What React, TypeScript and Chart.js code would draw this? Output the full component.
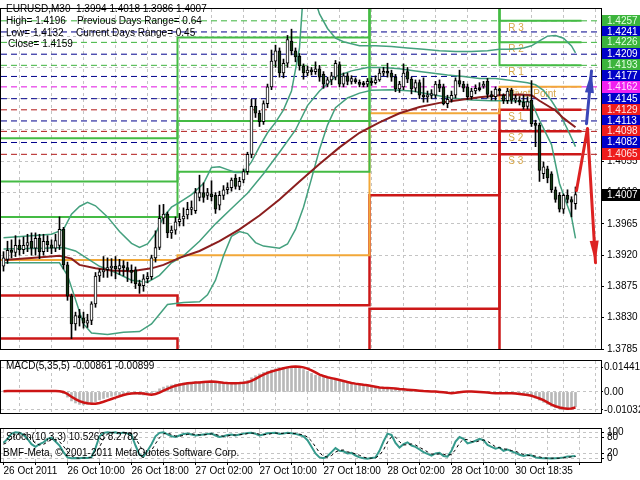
import React, { useEffect, useRef } from "react";
import { Chart, registerables } from "chart.js";
Chart.register(...registerables);

const FONT = "'Liberation Sans', Arial, sans-serif";
const GRID = "#c4c4c4";

// ---------- candles (EURUSD M30) ----------
const opens = [
  1.3904,1.3914,1.3927,1.3924,1.3934,1.3928,1.3934,1.3940,1.3930,1.3944,
  1.3925,1.3940,1.3935,1.3930,1.3934,1.3957,1.3906,1.3861,1.3821,1.3833,
  1.3830,1.3822,1.3826,1.3850,1.3890,1.3896,1.3899,1.3902,1.3904,1.3900,
  1.3905,1.3902,1.3898,1.3899,1.3879,1.3876,1.3886,1.3889,1.3916,1.3931,
  1.3973,1.3979,1.3952,1.3956,1.3968,1.3972,1.3978,1.3986,1.3984,1.4003,
  1.4010,1.4006,1.4008,1.4006,1.3992,1.4006,1.4014,1.4017,1.4031,1.4019,
  1.4028,1.4040,1.4065,1.4134,1.4124,1.4112,1.4138,1.4162,1.4199,1.4214,
  1.4182,1.4196,1.4228,1.4214,1.4206,1.4192,1.4182,1.4186,1.4184,1.4188,
  1.4180,1.4166,1.4172,1.4176,1.4194,1.4166,1.4178,1.4170,1.4172,1.4168,
  1.4166,1.4166,1.4170,1.4168,1.4172,1.4182,1.4184,1.4182,1.4176,1.4159,
  1.4162,1.4184,1.4173,1.4160,1.4168,1.4150,1.4148,1.4150,1.4150,1.4166,
  1.4162,1.4138,1.4144,1.4150,1.4171,1.4166,1.4162,1.4148,1.4156,1.4160,
  1.4163,1.4170,1.4151,1.4148,1.4159,1.4150,1.4142,1.4157,1.4143,1.4143,
  1.4140,1.4134,1.4143,1.4109,1.4107,1.4037,1.4044,1.4037,1.4014,1.4006,
  1.3986,1.4006,1.4000,1.3994,
];
const highs = [
  1.3925,1.3940,1.3942,1.3948,1.3942,1.3946,1.3950,1.3952,1.3952,1.3950,
  1.3950,1.3948,1.3942,1.3950,1.3975,1.3960,1.3910,1.3864,1.3838,1.3842,
  1.3838,1.3835,1.3853,1.3895,1.3900,1.3918,1.3916,1.3915,1.3918,1.3914,
  1.3912,1.3910,1.3906,1.3903,1.3884,1.3892,1.3895,1.3920,1.3955,1.3992,
  1.3993,1.3982,1.3962,1.3975,1.3980,1.3988,1.3996,1.3998,1.4016,1.4035,
  1.4024,1.4016,1.4027,1.4010,1.4012,1.4020,1.4024,1.4031,1.4036,1.4032,
  1.4044,1.4068,1.4144,1.4144,1.4128,1.4142,1.4166,1.4215,1.4222,1.4218,
  1.4202,1.4236,1.4245,1.4218,1.4210,1.4195,1.4192,1.4190,1.4198,1.4193,
  1.4184,1.4176,1.4183,1.4200,1.4198,1.4182,1.4182,1.4178,1.4175,1.4172,
  1.4170,1.4174,1.4175,1.4178,1.4188,1.4190,1.4196,1.4186,1.4180,1.4170,
  1.4195,1.4190,1.4176,1.4172,1.4172,1.4175,1.4156,1.4158,1.4170,1.4172,
  1.4166,1.4150,1.4156,1.4175,1.4186,1.4170,1.4166,1.4160,1.4165,1.4168,
  1.4170,1.4174,1.4156,1.4162,1.4160,1.4152,1.4160,1.4160,1.4150,1.4148,
  1.4150,1.4148,1.4171,1.4114,1.4110,1.4054,1.4048,1.4040,1.4018,1.4010,
  1.4008,1.4014,1.4004,1.4018,
];
const lows = [
  1.3897,1.3908,1.3916,1.3918,1.3920,1.3922,1.3925,1.3920,1.3920,1.3915,
  1.3920,1.3925,1.3922,1.3925,1.3928,1.3900,1.3855,1.3800,1.3812,1.3818,
  1.3815,1.3816,1.3820,1.3845,1.3882,1.3888,1.3888,1.3890,1.3886,1.3892,
  1.3890,1.3882,1.3880,1.3872,1.3865,1.3868,1.3880,1.3885,1.3910,1.3928,
  1.3965,1.3945,1.3944,1.3950,1.3962,1.3962,1.3972,1.3978,1.3980,1.3998,
  1.3996,1.4000,1.3998,1.3980,1.3985,1.4000,1.4008,1.4012,1.4015,1.4014,
  1.4024,1.4036,1.4060,1.4118,1.4105,1.4108,1.4132,1.4158,1.4190,1.4176,
  1.4175,1.4190,1.4208,1.4198,1.4186,1.4173,1.4178,1.4179,1.4180,1.4170,
  1.4160,1.4162,1.4165,1.4172,1.4162,1.4162,1.4165,1.4166,1.4167,1.4162,
  1.4162,1.4162,1.4164,1.4166,1.4170,1.4178,1.4176,1.4170,1.4155,1.4154,
  1.4158,1.4168,1.4152,1.4155,1.4145,1.4140,1.4140,1.4145,1.4146,1.4155,
  1.4136,1.4132,1.4140,1.4146,1.4162,1.4155,1.4144,1.4144,1.4152,1.4156,
  1.4160,1.4146,1.4143,1.4143,1.4150,1.4138,1.4138,1.4138,1.4139,1.4136,
  1.4130,1.4130,1.4105,1.4076,1.4026,1.4030,1.4024,1.4010,1.3996,1.3982,
  1.3980,1.3995,1.3975,1.3986,
];
const closes = [
  1.3916,1.3927,1.3924,1.3934,1.3928,1.3934,1.3938,1.3930,1.3944,1.3925,
  1.3940,1.3935,1.3930,1.3941,1.3957,1.3906,1.3861,1.3821,1.3833,1.3830,
  1.3822,1.3826,1.3850,1.3890,1.3896,1.3899,1.3902,1.3904,1.3900,1.3905,
  1.3902,1.3898,1.3895,1.3879,1.3876,1.3886,1.3889,1.3916,1.3931,1.3973,
  1.3979,1.3952,1.3956,1.3968,1.3972,1.3976,1.3986,1.3988,1.4010,1.4010,
  1.4003,1.4010,1.4004,1.3986,1.4006,1.4014,1.4017,1.4028,1.4019,1.4026,
  1.4040,1.4065,1.4134,1.4124,1.4112,1.4138,1.4162,1.4199,1.4214,1.4182,
  1.4196,1.4230,1.4214,1.4205,1.4192,1.4182,1.4186,1.4184,1.4188,1.4176,
  1.4166,1.4172,1.4178,1.4196,1.4166,1.4178,1.4170,1.4174,1.4170,1.4166,
  1.4167,1.4170,1.4168,1.4172,1.4182,1.4184,1.4182,1.4176,1.4159,1.4166,
  1.4182,1.4173,1.4159,1.4168,1.4150,1.4148,1.4150,1.4152,1.4166,1.4160,
  1.4138,1.4144,1.4150,1.4171,1.4166,1.4160,1.4148,1.4156,1.4160,1.4159,
  1.4166,1.4151,1.4148,1.4159,1.4156,1.4142,1.4156,1.4143,1.4146,1.4140,
  1.4133,1.4141,1.4109,1.4107,1.4042,1.4047,1.4031,1.4014,1.4000,1.3986,
  1.4006,1.4000,1.3996,1.4007,
];

// ---------- time axis ----------
const gridBars = [0, 8, 16, 24, 32, 40, 48, 56, 64, 72, 80, 88, 96, 104, 112, 120, 128, 136, 144];
const timeTickBars = [0, 16, 32, 48, 64, 80, 96, 112, 128];
const timeTickLabels = [
  "26 Oct 2011", "26 Oct 10:00", "26 Oct 18:00", "27 Oct 02:00", "27 Oct 10:00",
  "27 Oct 18:00", "28 Oct 02:00", "28 Oct 10:00", "30 Oct 18:35",
];
const priceTicks = [1.3785, 1.3830, 1.3875, 1.3920, 1.3965, 1.4010, 1.4055, 1.4100, 1.4145, 1.4190, 1.4235];

// ---------- indicators on price: [bar, price] ----------
const bbUpper = [
  [0,1.3945],[7,1.3948],[12,1.3950],[15,1.3957],[17,1.3979],[19,1.3990],[21,1.3996],[23,1.3991],
  [26,1.3975],[29,1.3954],[32,1.3937],[34,1.3931],[36,1.3936],[38,1.3951],[40,1.3975],[42,1.3989],
  [44,1.3996],[47,1.4007],[50,1.4023],[52,1.4046],[54,1.4047],[56,1.4043],[58,1.4039],[60,1.4039],
  [62,1.4054],[64,1.4076],[66,1.4096],[68,1.4111],[70,1.4129],[72,1.4156],[74,1.4218],[75,1.4302],
  [77,1.4302],[79,1.4267],[81,1.4246],[83,1.4232],[85,1.4227],[89,1.4221],[93,1.4221],[97,1.4220],
  [101,1.4218],[105,1.4216],[109,1.4214],[113,1.4213],[117,1.4213],[121,1.4214],[124,1.4216],
  [127,1.4216],[130,1.4218],[132,1.4221],[134,1.4228],[136,1.4235],[138,1.4236],[140,1.4232],
  [142,1.4221],[143,1.4211],
];
const bbMiddle = [
  [0,1.3929],[10,1.3930],[15,1.3931],[18,1.3926],[21,1.3915],[24,1.3904],[28,1.3895],[32,1.3884],
  [36,1.3881],[39,1.3891],[42,1.3909],[45,1.3919],[49,1.3940],[53,1.3965],[57,1.3987],[61,1.4009],
  [65,1.4037],[69,1.4068],[73,1.4100],[76,1.4135],[79,1.4156],[83,1.4177],[87,1.4185],[91,1.4190],
  [95,1.4190],[99,1.4188],[103,1.4185],[107,1.4182],[111,1.4179],[115,1.4177],[119,1.4174],
  [123,1.4174],[127,1.4171],[131,1.4168],[133,1.4165],[135,1.4157],[137,1.4142],[139,1.4124],
  [141,1.4101],[143,1.4076],
];
const bbLower = [
  [0,1.3909],[10,1.3909],[14,1.3909],[16,1.3891],[18,1.3856],[20,1.3821],[22,1.3808],[26,1.3806],
  [30,1.3809],[34,1.3810],[37,1.3821],[39,1.3835],[41,1.3849],[45,1.3852],[49,1.3853],[51,1.3863],
  [53,1.3884],[55,1.3919],[57,1.3947],[59,1.3954],[61,1.3951],[63,1.3938],[65,1.3933],[69,1.3930],
  [71,1.3936],[73,1.3957],[75,1.3989],[77,1.4030],[79,1.4072],[81,1.4107],[83,1.4132],[86,1.4146],
  [89,1.4153],[92,1.4157],[97,1.4158],[102,1.4156],[107,1.4151],[112,1.4146],[117,1.4143],
  [122,1.4142],[127,1.4142],[132,1.4140],[134,1.4114],[137,1.4079],[139,1.4023],[142,1.3975],
  [143,1.3944],
];
const slowMA = [
  [0,1.3913],[7,1.3916],[14,1.3919],[17,1.3915],[19,1.3906],[23,1.3901],[27,1.3898],[32,1.3897],
  [37,1.3901],[40,1.3906],[44,1.3916],[49,1.3926],[54,1.3940],[59,1.3957],[64,1.3977],[69,1.4000],
  [74,1.4026],[79,1.4051],[84,1.4075],[89,1.4096],[94,1.4111],[99,1.4124],[104,1.4133],[109,1.4139],
  [114,1.4143],[119,1.4147],[124,1.4150],[129,1.4151],[132,1.4150],[134,1.4142],[138,1.4128],
  [140,1.4117],[143,1.4104],
];

// ---------- daily pivots (per day) ----------
const pivotDayStarts = [-0.625, 43.5, 91.5, 124];
const pivotR3 = [1.4088, 1.4233, 1.4523, 1.4257];
const pivotR2 = [1.4026, 1.4113, 1.4405, 1.4226];
const pivotR1 = [1.3975, 1.4040, 1.4287, 1.4193];
const pivotPP = [1.3913, 1.3920, 1.4124, 1.4162];
const pivotS1 = [1.3862, 1.3848, 1.4006, 1.4129];
const pivotS2 = [1.3800, 1.3727, 1.3843, 1.4098];
const pivotS3 = [1.3749, 1.3656, 1.3725, 1.4065];
const pivotEndBar = 144.5;

// ---------- horizontal levels (full width) ----------
const levelPrices = [1.4257, 1.4241, 1.4226, 1.4209, 1.4193, 1.4177, 1.4162, 1.4145, 1.4129, 1.4113, 1.4098, 1.4082, 1.4065];
const levelKinds = ["R", "M", "R", "M", "R", "M", "P", "M", "S", "M", "S", "M", "S"];
const pivotLabelTexts = ["R 3", "R 2", "R 1", "Pivot Point", "S 1", "S 2", "S 3"];
const pivotLabelPrices = [1.4257, 1.4226, 1.4193, 1.4162, 1.4129, 1.4098, 1.4065];
const lastPrice = 1.4007;

// ---------- forecast arrows: [bar, price] ----------
const arrowUpPath = [[145.75, 1.4109], [147.0, 1.4185]];
const arrowDownPath = [[143.25, 1.4013], [146.0, 1.4102], [148.0, 1.3909]];

// ---------- MACD(5,35,5) ----------
const macdMain = [
  0.0005,0.0006,0.0006,0.0006,0.0007,0.0006,0.0006,0.0007,0.0006,0.0005,
  0.0005,0.0005,0.0005,0.0006,0.0008,-0.0010,-0.0030,-0.0052,-0.0064,-0.0072,
  -0.0075,-0.0072,-0.0066,-0.0056,-0.0046,-0.0038,-0.0031,-0.0025,-0.0020,-0.0016,
  -0.0013,-0.0011,-0.0010,-0.0012,-0.0016,-0.0018,-0.0015,-0.0008,0.0004,0.0018,
  0.0028,0.0035,0.0040,0.0045,0.0049,0.0052,0.0054,0.0056,0.0058,0.0060,
  0.0061,0.0061,0.0058,0.0053,0.0050,0.0049,0.0049,0.0050,0.0052,0.0054,
  0.0058,0.0066,0.0082,0.0094,0.0104,0.0113,0.0120,0.0127,0.0133,0.0138,
  0.0141,0.0144,0.01441,0.0143,0.0138,0.0130,0.0119,0.0107,0.0097,0.0090,
  0.0084,0.0080,0.0076,0.0072,0.0066,0.0060,0.0054,0.0050,0.0046,0.0043,
  0.0039,0.0035,0.0031,0.0027,0.0024,0.0023,0.0023,0.0021,0.0018,0.0016,
  0.0014,0.0012,0.0010,0.0008,0.0006,0.0004,0.0003,0.0002,0.0001,-0.0002,
  -0.0005,-0.0007,-0.0006,-0.0002,0.0001,0.0003,0.0002,0.0001,0.0000,-0.0002,
  -0.0004,-0.0006,-0.0007,-0.0007,-0.0006,-0.0007,-0.0007,-0.0008,-0.0011,-0.0014,
  -0.0017,-0.0020,-0.0026,-0.0036,-0.0048,-0.0060,-0.0072,-0.0083,-0.0092,-0.0098,
  -0.0102,-0.01032,-0.0100,-0.00861,
];
const macdSignal = [
  0.0004,0.0005,0.0005,0.0006,0.0006,0.0006,0.0006,0.0006,0.0006,0.0006,
  0.0005,0.0005,0.0005,0.0005,0.0004,0.0000,-0.0012,-0.0028,-0.0042,-0.0053,
  -0.0061,-0.0066,-0.0069,-0.0068,-0.0064,-0.0057,-0.0049,-0.0041,-0.0033,-0.0025,
  -0.0018,-0.0012,-0.0009,-0.0007,-0.0007,-0.0009,-0.0013,-0.0016,-0.0012,-0.0004,
  0.0007,0.0018,0.0028,0.0036,0.0042,0.0046,0.0050,0.0052,0.0054,0.0055,
  0.0057,0.0059,0.0060,0.0059,0.0056,0.0053,0.0051,0.0050,0.0050,0.0051,
  0.0053,0.0056,0.0064,0.0076,0.0089,0.0100,0.0110,0.0118,0.0125,0.0131,
  0.0137,0.0142,0.0146,0.0147,0.0146,0.0142,0.0135,0.0125,0.0113,0.0100,
  0.0092,0.0085,0.0080,0.0075,0.0069,0.0063,0.0057,0.0052,0.0048,0.0045,
  0.0041,0.0038,0.0034,0.0030,0.0026,0.0024,0.0023,0.0022,0.0020,0.0017,
  0.0015,0.0013,0.0011,0.0009,0.0007,0.0005,0.0004,0.0003,0.0002,0.0000,
  -0.0002,-0.0005,-0.0007,-0.0005,-0.0002,0.0001,0.0002,0.0002,0.0001,0.0000,
  -0.0002,-0.0004,-0.0006,-0.0007,-0.0007,-0.0007,-0.0007,-0.0007,-0.0009,-0.0012,
  -0.0015,-0.0018,-0.0022,-0.0030,-0.0038,-0.0047,-0.0060,-0.0073,-0.0083,-0.0090,
  -0.0095,-0.0097,-0.0096,-0.00899,
];
const macdTicks = [-0.01032, 0, 0.01441];

// ---------- Stochastic(10,3,3) ----------
const stochMain = [
  60,75,95,100,98,90,75,55,45,55,
  62,75,80,65,50,25,5,2,3,2,
  4,3,6,40,85,98,100,98,100,96,
  99,95,90,50,15,8,30,55,85,98,
  100,92,85,82,88,94,95,92,88,90,
  92,94,95,88,82,85,90,92,88,92,
  95,97,98,94,88,92,96,97,98,94,
  95,98,96,94,90,85,70,45,20,5,
  2,10,25,40,30,28,20,22,12,5,
  2,0,3,5,30,65,95,90,60,42,
  55,62,50,45,35,25,18,12,20,22,
  10,8,30,65,82,75,58,62,68,75,
  70,52,45,38,42,30,35,28,22,15,
  10,14,12,5,3,2,2,1,2,3,
  5,8,9,10.5263,
];
const stochSignal = [
  55,62,77,90,98,96,88,73,58,52,
  54,64,72,73,65,47,27,11,3,2,
  3,3,4,16,44,74,94,99,99,98,
  98,97,95,78,52,24,18,31,57,79,
  94,97,92,86,85,88,92,94,92,90,
  90,92,94,92,88,85,86,89,90,91,
  92,95,97,96,93,91,92,95,97,96,
  96,96,96,96,93,90,82,67,45,23,
  9,6,12,25,32,33,26,23,18,13,
  6,2,2,3,13,33,63,83,82,64,
  52,53,56,52,43,35,26,18,17,18,
  17,13,16,34,59,74,72,65,63,68,
  71,66,56,45,42,37,36,31,28,22,
  16,13,12,10,7,3,2,2,2,2,
  3,5,7,8.2782,
];
const stochTicks = [0, 20, 80, 100];

// ---------- helpers ----------
const X_MIN = -0.625;
const X_MAX = 149.375;
const pts = (arr: number[][]) => arr.map((p) => ({ x: p[0], y: p[1] }));

function xScale(withLabels: boolean): any {
  return {
    type: "linear",
    min: X_MIN,
    max: X_MAX,
    offset: false,
    afterBuildTicks: (s: any) => {
      s.ticks = gridBars.map((v) => ({ value: v }));
    },
    afterFit: (s: any) => {
      s.height = withLabels ? 18 : 0;
    },
    grid: {
      color: GRID,
      lineWidth: 1,
      drawTicks: withLabels,
      tickLength: 3,
      tickColor: "#000",
      tickBorderDash: [],
    },
    border: { display: false, dash: [3, 3] },
    ticks: withLabels
      ? {
          display: true,
          autoSkip: false,
          maxRotation: 0,
          minRotation: 0,
          align: "start",
          padding: 0,
          color: "#000",
          font: { family: FONT, size: 10 },
          callback: (v: any) => {
            const k = timeTickBars.indexOf(Number(v));
            return k >= 0 ? timeTickLabels[k] : "";
          },
        }
      : { display: false },
  };
}

function yScale(min: number, max: number, ticks: number[], fmt: (v: number) => string, pad = 3, tl = 3): any {
  return {
    type: "linear",
    position: "right",
    min,
    max,
    afterFit: (s: any) => {
      s.width = 39;
    },
    afterBuildTicks: (s: any) => {
      s.ticks = ticks.map((v) => ({ value: v }));
    },
    grid: { color: GRID, lineWidth: 1, drawTicks: true, tickLength: tl, tickColor: "#000", tickBorderDash: [] },
    border: { display: false, dash: [3, 3] },
    ticks: {
      autoSkip: false,
      color: "#000",
      padding: pad,
      font: { family: FONT, size: 10 },
      callback: (v: any) => fmt(Number(v)),
    },
  };
}

const framePlugin = {
  id: "frame",
  afterDraw(chart: any) {
    const { ctx, chartArea: a } = chart;
    ctx.save();
    ctx.strokeStyle = "#000";
    ctx.lineWidth = 1;
    ctx.strokeRect(a.left - 0.5, a.top - 0.5, a.right - a.left + 1, a.bottom - a.top + 1);
    ctx.restore();
  },
};

function drawArrow(ctx: any, p: number[][], color: string, width: number) {
  ctx.strokeStyle = color;
  ctx.fillStyle = color;
  ctx.lineWidth = width;
  ctx.lineJoin = "round";
  ctx.lineCap = "round";
  ctx.beginPath();
  p.forEach((q, i) => (i ? ctx.lineTo(q[0], q[1]) : ctx.moveTo(q[0], q[1])));
  ctx.stroke();
  const [x1, y1] = p[p.length - 2];
  const [x2, y2] = p[p.length - 1];
  const ang = Math.atan2(y2 - y1, x2 - x1);
  const L = 22;
  const W = 4.5;
  const bx = x2 - L * Math.cos(ang);
  const by = y2 - L * Math.sin(ang);
  ctx.beginPath();
  ctx.moveTo(x2, y2);
  ctx.lineTo(bx + W * Math.sin(ang), by - W * Math.cos(ang));
  ctx.lineTo(bx - W * Math.sin(ang), by + W * Math.cos(ang));
  ctx.closePath();
  ctx.fill();
}

const levelLineColor: any = { R: "#3cb43c", M: "#00008c", P: "#e010e0", S: "#b01818" };
const levelBoxColor: any = { R: "#3cb43c", M: "#0000c8", P: "#f020f0", S: "#ee1c1c" };
const levelTextColor: any = { R: "#e0ffe0", M: "#ffffff", P: "#ffe0ff", S: "#ffe6e6" };

const mainOverlay = {
  id: "mainOverlay",
  beforeDatasetsDraw(chart: any) {
    const { ctx, scales } = chart;
    ctx.save();
    ctx.font = `10px ${FONT}`;
    ctx.fillStyle = "#d6a64a";
    ctx.textBaseline = "top";
    const lx = scales.x.getPixelForValue(126.2);
    pivotLabelTexts.forEach((t, i) => {
      ctx.fillText(t, lx, scales.y.getPixelForValue(pivotLabelPrices[i]) + 2);
    });
    ctx.restore();
  },
  afterDatasetsDraw(chart: any) {
    const { ctx, scales } = chart;
    const toPx = (p: number[][]) => p.map((q) => [scales.x.getPixelForValue(q[0]), scales.y.getPixelForValue(q[1])]);
    ctx.save();
    drawArrow(ctx, toPx(arrowDownPath), "#dd2222", 3);
    drawArrow(ctx, toPx(arrowUpPath), "#3a46b8", 3);
    ctx.restore();
  },
  afterDraw(chart: any) {
    const { ctx, scales, chartArea: a } = chart;
    ctx.save();
    ctx.font = `10px ${FONT}`;
    ctx.textBaseline = "middle";
    const boxL = a.right + 1;
    levelPrices.forEach((p, i) => {
      const k = levelKinds[i];
      const y = Math.round(scales.y.getPixelForValue(p));
      ctx.fillStyle = levelBoxColor[k];
      ctx.fillRect(boxL, y - 6, 640 - boxL, 12);
      ctx.fillStyle = levelTextColor[k];
      ctx.fillText(p.toFixed(4), boxL + 5, y + 0.5);
    });
    const yl = Math.round(scales.y.getPixelForValue(lastPrice));
    ctx.fillStyle = "#000";
    ctx.fillRect(boxL, yl - 6, 640 - boxL, 12);
    ctx.fillStyle = "#fff";
    ctx.fillText(lastPrice.toFixed(4), boxL + 5, yl + 0.5);
    ctx.fillStyle = "#000";
    ctx.fillText("EURUSD,M30  1.3994 1.4018 1.3986 1.4007", 6, 9);
    ctx.fillText("High= 1.4196", 6, 21);
    ctx.fillText("Previous Days Range= 0.64", 77, 21);
    ctx.fillText("Low= 1.4132", 6, 33);
    ctx.fillText("Current Days Range= 0.45", 76, 33);
    ctx.fillText("Close= 1.4159", 8, 44);
    ctx.restore();
  },
};

function stepData(levels: number[]) {
  const d = pivotDayStarts.map((x, i) => ({ x, y: levels[i] }));
  d.push({ x: pivotEndBar, y: levels[levels.length - 1] });
  return d;
}

function mainConfig(): any {
  const idx = opens.map((_, i) => i);
  const wick = idx.map((i) => ({ x: i, y: [lows[i], highs[i]] }));
  const body = idx.map((i) => {
    let lo = Math.min(opens[i], closes[i]);
    let hi = Math.max(opens[i], closes[i]);
    if (hi - lo < 0.00028) {
      const m = (hi + lo) / 2;
      lo = m - 0.00014;
      hi = m + 0.00014;
    }
    return { x: i, y: [lo, hi] };
  });
  const bodyColor = idx.map((i) =>
    Math.abs(closes[i] - opens[i]) < 0.00016 ? "#000" : closes[i] > opens[i] ? "#ffffff" : "#163a16"
  );
  const line = (label: string, data: any[], color: string, width: number, order: number, extra: any = {}) => ({
    type: "line",
    label,
    data,
    borderColor: color,
    borderWidth: width,
    pointRadius: 0,
    tension: 0,
    fill: false,
    order,
    ...extra,
  });
  const levelSets = levelPrices.map((p, i) =>
    line("lvl" + i, [{ x: X_MIN, y: p }, { x: X_MAX, y: p }], levelLineColor[levelKinds[i]], 1, 8, {
      borderDash: [6, 4],
    })
  );
  return {
    type: "bar",
    data: {
      datasets: [
        {
          type: "bar",
          label: "body",
          data: body,
          backgroundColor: bodyColor,
          borderColor: "#000",
          borderWidth: 1,
          borderSkipped: false,
          barThickness: 3,
          grouped: false,
          order: 0,
        },
        {
          type: "bar",
          label: "wick",
          data: wick,
          backgroundColor: "#000",
          borderWidth: 0,
          barThickness: 1,
          grouped: false,
          order: 1,
        },
        line("bbU", pts(bbUpper), "#44a07e", 1.5, 3),
        line("bbM", pts(bbMiddle), "#44a07e", 1.5, 3),
        line("bbL", pts(bbLower), "#44a07e", 1.5, 3),
        line("ma", pts(slowMA), "#8b1e1e", 2, 2),
        line("R3", stepData(pivotR3), "#44bb44", 2, 5, { stepped: "before" }),
        line("R2", stepData(pivotR2), "#44bb44", 2, 5, { stepped: "before" }),
        line("R1", stepData(pivotR1), "#44bb44", 2, 5, { stepped: "before" }),
        line("PP", stepData(pivotPP), "#f2a838", 2, 5, { stepped: "before" }),
        line("S1", stepData(pivotS1), "#cc1818", 2.5, 5, { stepped: "before" }),
        line("S2", stepData(pivotS2), "#cc1818", 2.5, 5, { stepped: "before" }),
        line("S3", stepData(pivotS3), "#cc1818", 2.5, 5, { stepped: "before" }),
        ...levelSets,
      ],
    },
    options: {
      responsive: false,
      animation: false,
      events: [],
      layout: { padding: { top: 1, bottom: 6, left: 1, right: 0 } },
      plugins: { legend: { display: false }, tooltip: { enabled: false }, title: { display: false } },
      scales: {
        x: xScale(false),
        y: yScale(1.3785, 1.4274, priceTicks, (v) => v.toFixed(4)),
      },
    },
    plugins: [mainOverlay, framePlugin],
  };
}

function macdConfig(): any {
  const idx = macdMain.map((_, i) => i);
  return {
    type: "bar",
    data: {
      datasets: [
        {
          type: "line",
          label: "signal",
          data: idx.map((i) => ({ x: i, y: macdSignal[i] })),
          borderColor: "#cc1414",
          borderWidth: 2.5,
          pointRadius: 0,
          tension: 0,
          order: 0,
        },
        {
          type: "bar",
          label: "macd",
          data: idx.map((i) => ({ x: i, y: macdMain[i] })),
          backgroundColor: "#b8b8b8",
          borderWidth: 0,
          barThickness: 2,
          grouped: false,
          order: 1,
        },
      ],
    },
    options: {
      responsive: false,
      animation: false,
      events: [],
      layout: { padding: { top: 2, bottom: 1, left: 1, right: 0 } },
      plugins: { legend: { display: false }, tooltip: { enabled: false } },
      scales: {
        x: xScale(false),
        y: yScale(-0.0122, 0.0179, macdTicks, (v) => (v === 0 ? "0.00" : v.toFixed(5)), 1, 2),
      },
    },
    plugins: [
      framePlugin,
      {
        id: "macdText",
        afterDraw(chart: any) {
          const { ctx } = chart;
          ctx.save();
          ctx.font = `10px ${FONT}`;
          ctx.fillStyle = "#000";
          ctx.textBaseline = "middle";
          ctx.fillText("MACD(5,35,5) -0.00861 -0.00899", 6, 12);
          ctx.restore();
        },
      },
    ],
  };
}

function stochConfig(): any {
  const idx = stochMain.map((_, i) => i);
  return {
    type: "line",
    data: {
      datasets: [
        {
          label: "signal",
          data: idx.map((i) => ({ x: i, y: stochSignal[i] })),
          borderColor: "#000",
          borderWidth: 1,
          borderDash: [3, 3],
          pointRadius: 0,
          tension: 0,
          order: 0,
        },
        {
          label: "main",
          data: idx.map((i) => ({ x: i, y: stochMain[i] })),
          borderColor: "#359a8c",
          borderWidth: 2,
          pointRadius: 0,
          tension: 0,
          order: 1,
        },
      ],
    },
    options: {
      responsive: false,
      animation: false,
      events: [],
      layout: { padding: { top: 2, bottom: 0, left: 1, right: 0 } },
      plugins: { legend: { display: false }, tooltip: { enabled: false } },
      scales: {
        x: xScale(true),
        y: yScale(-12.5, 112.5, stochTicks, (v) => String(v)),
      },
    },
    plugins: [
      framePlugin,
      {
        id: "stochText",
        afterDraw(chart: any) {
          const { ctx } = chart;
          ctx.save();
          ctx.font = `10px ${FONT}`;
          ctx.fillStyle = "#000";
          ctx.textBaseline = "middle";
          ctx.fillText("Stoch(10,3,3) 10.5263 8.2782", 6, 17);
          ctx.fillText("BMF-Meta, \u00a9 2001-2011 MetaQuotes Software Corp.", 3, 33);
          ctx.restore();
        },
      },
    ],
  };
}

export default function App() {
  const mainRef = useRef<HTMLCanvasElement>(null);
  const macdRef = useRef<HTMLCanvasElement>(null);
  const stochRef = useRef<HTMLCanvasElement>(null);
  useEffect(() => {
    const charts = [
      new Chart(mainRef.current as HTMLCanvasElement, mainConfig()),
      new Chart(macdRef.current as HTMLCanvasElement, macdConfig()),
      new Chart(stochRef.current as HTMLCanvasElement, stochConfig()),
    ];
    return () => charts.forEach((c) => c.destroy());
  }, []);
  return (
    <div style={{ position: "fixed", left: 0, top: 0, width: 640, height: 480, background: "#fff", overflow: "hidden" }}>
      <canvas ref={mainRef} width={640} height={358} style={{ position: "absolute", left: 0, top: 0 }} />
      <canvas ref={macdRef} width={640} height={66} style={{ position: "absolute", left: 0, top: 354 }} />
      <canvas ref={stochRef} width={640} height={60} style={{ position: "absolute", left: 0, top: 420 }} />
    </div>
  );
}
